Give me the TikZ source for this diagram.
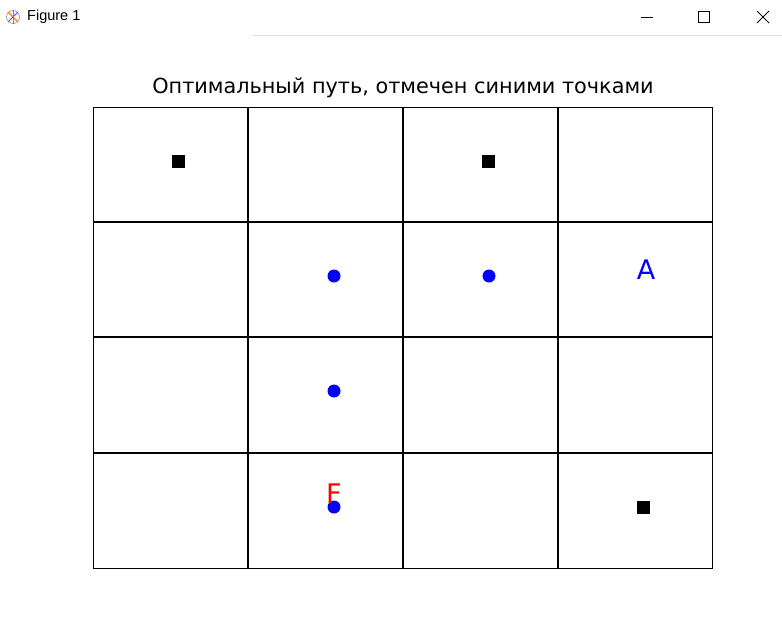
\documentclass[tikz,border=0pt]{standalone}
\usepackage{fontspec}
\setmainfont{DejaVu Sans}
\newfontfamily\uifont{Liberation Sans}
\begin{document}
\begin{tikzpicture}[x=1pt,y=-1pt,
  cellline/.style={line width=2pt,black},
  sqmark/.style={fill=black,minimum size=13pt,inner sep=0pt,draw=none,rectangle},
  dotmark/.style={fill=blue,circle,minimum size=13pt,inner sep=0pt,draw=none},
  bigletter/.style={font=\fontsize{27}{30}\selectfont,inner sep=0pt},
  winbtn/.style={line width=1pt,black}]
\useasboundingbox (0,0) rectangle (782,624);
\fill[white] (0,0) rectangle (782,624);
% window title bar
\node[circle,draw=gray!70,line width=0.8pt,minimum size=13pt,inner sep=0pt] (icon) at (13,17) {};
\draw[orange,line width=1.2pt] (icon.north west) -- (icon.south east);
\draw[blue!70,line width=0.8pt] (icon.north east) -- (icon.south west);
\draw[red!70,line width=0.8pt] (icon.north) -- (icon.south);
\node[anchor=west,font=\uifont\fontsize{14.5}{16}\selectfont,inner sep=0pt] (figtitle) at (27,17) {Figure 1};
\coordinate (minA) at (641,17); \coordinate (minB) at (653,17);
\draw[winbtn] (minA) -- (minB);
\node[draw,line width=1pt,minimum size=11pt,inner sep=0pt] (maxbtn) at (704,17) {};
\coordinate (xa) at (757,11); \coordinate (xb) at (769,23);
\coordinate (xc) at (769,11); \coordinate (xd) at (757,23);
\draw[winbtn] (xa) -- (xb) (xc) -- (xd);
\coordinate (sepA) at (253,35.5); \coordinate (sepB) at (782,35.5);
\draw[gray!25,line width=1pt] (sepA) -- (sepB);
% title
\node[font=\fontsize{20.8}{24}\selectfont,inner sep=0pt] (title) at (403,88) {Оптимальный путь, отмечен синими точками};
% grid
\foreach \x in {248,403,558} \draw[cellline] (\x,107) -- (\x,568);
\foreach \y in {222,337,453} \draw[cellline] (93,\y) -- (712,\y);
\draw[line width=1pt] (93,107) rectangle (712,568);
% markers
\node[sqmark] (s1) at (178,161) {};
\node[sqmark] (s2) at (488,161) {};
\node[sqmark] (s3) at (643,507) {};
\node[dotmark] (d1) at (334,276) {};
\node[dotmark] (d2) at (489,276) {};
\node[dotmark] (d3) at (334,391) {};
\node[dotmark] (d4) at (334,507) {};
\node[bigletter,text=blue] (A) at (646,270) {A};
\node[bigletter,text=red] (F) at (334,494) {F};
\end{tikzpicture}
\end{document}
